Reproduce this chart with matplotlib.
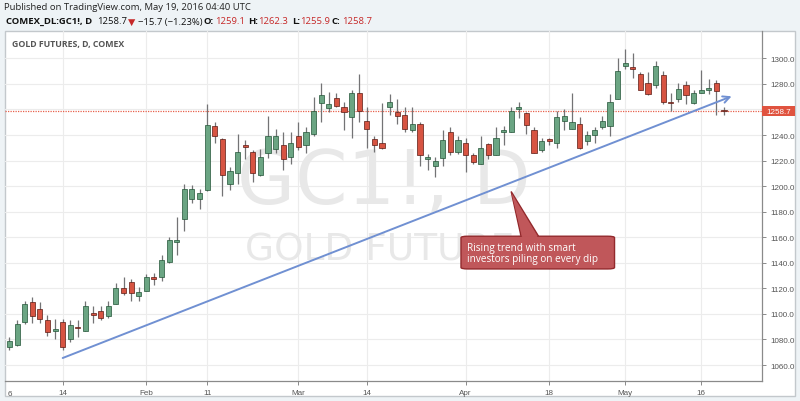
import numpy as np
import pandas as pd
import matplotlib
matplotlib.use('Agg')
import matplotlib.pyplot as plt
import matplotlib.transforms as mtransforms
from matplotlib.patches import Rectangle, FancyBboxPatch, Polygon

# COMEX gold futures, daily bars, 5 Jan - 19 May 2016
holidays = ['2016-01-18', '2016-02-15', '2016-03-25']
dates = pd.bdate_range('2016-01-05', '2016-05-19').drop(pd.to_datetime(holidays))

opens = [1074, 1076, 1094, 1109, 1104, 1095, 1087, 1094, 1080, 1090,
         1087, 1101, 1102, 1098, 1108, 1120, 1125, 1114, 1118, 1129,
         1129, 1141, 1156, 1174, 1190, 1190, 1197, 1247, 1237, 1202,
         1210, 1232, 1227, 1209, 1226, 1229, 1232, 1223, 1239, 1232,
         1241, 1265, 1261, 1269, 1262, 1254, 1273, 1251, 1237, 1234,
         1262, 1258, 1256, 1244, 1249, 1221, 1216, 1222, 1242, 1227,
         1234, 1224, 1217, 1233, 1224, 1242, 1242, 1260, 1257, 1244,
         1228, 1237, 1234, 1251, 1245, 1249, 1235, 1240, 1246, 1247,
         1268, 1294, 1293, 1288, 1281, 1279, 1287, 1266, 1268, 1279,
         1265, 1273, 1275, 1281, 1259.1]
highs = [1082, 1095, 1110, 1113, 1109, 1099, 1096, 1096, 1095, 1095,
         1110, 1106, 1106, 1110, 1124, 1129, 1127, 1121, 1131, 1132,
         1146, 1160, 1176, 1202, 1201, 1198, 1264, 1250, 1238, 1215,
         1241, 1236, 1228, 1229, 1255, 1245, 1242, 1242, 1250, 1246,
         1270, 1281, 1274, 1273, 1266, 1275, 1288, 1262, 1239, 1265,
         1272, 1268, 1262, 1262, 1250, 1225, 1223, 1244, 1246, 1239,
         1238, 1226, 1239, 1234, 1246, 1247, 1262, 1266, 1258, 1246,
         1238, 1238, 1259, 1260, 1273, 1254, 1243, 1246, 1255, 1272,
         1300, 1307, 1304, 1289, 1289, 1298, 1290, 1273, 1281, 1282,
         1275, 1291, 1284, 1283, 1262.3]
lows = [1072, 1075, 1092, 1093, 1093, 1083, 1080, 1072, 1078, 1082,
        1087, 1093, 1095, 1097, 1108, 1115, 1110, 1110, 1118, 1123,
        1126, 1140, 1146, 1165, 1187, 1182, 1196, 1234, 1192, 1197,
        1202, 1221, 1203, 1208, 1222, 1226, 1213, 1217, 1228, 1226,
        1239, 1250, 1258, 1262, 1244, 1238, 1250, 1230, 1227, 1229,
        1256, 1249, 1242, 1242, 1216, 1213, 1207, 1216, 1224, 1225,
        1211, 1217, 1217, 1221, 1224, 1232, 1242, 1253, 1241, 1226,
        1227, 1232, 1230, 1244, 1245, 1229, 1232, 1234, 1245, 1239,
        1268, 1292, 1285, 1275, 1271, 1277, 1264, 1259, 1266, 1264,
        1264, 1273, 1272, 1256, 1255.9]
closes = [1079, 1092, 1108, 1098, 1096, 1086, 1088, 1074, 1091, 1089,
          1106, 1099, 1097, 1106, 1120, 1116, 1116, 1117, 1129, 1127,
          1142, 1158, 1158, 1198, 1198, 1195, 1248, 1239, 1209, 1212,
          1227, 1231, 1210, 1223, 1239, 1239, 1221, 1234, 1231, 1242,
          1259, 1271, 1264, 1263, 1258, 1273, 1259, 1245, 1232, 1230,
          1266, 1255, 1245, 1249, 1224, 1223, 1220, 1236, 1227, 1236,
          1224, 1219, 1230, 1224, 1238, 1244, 1259, 1262, 1248, 1226,
          1235, 1235, 1254, 1255, 1250, 1230, 1240, 1244, 1251, 1266,
          1290, 1296, 1292, 1275, 1272, 1294, 1266, 1265, 1276, 1271,
          1273, 1275, 1277, 1274.4, 1258.7]

tick_dates = ['2016-01-14', '2016-02-01', '2016-02-11', '2016-03-01', '2016-03-14',
              '2016-04-01', '2016-04-18', '2016-05-02', '2016-05-16']
tick_labels = ['14', 'Feb', '11', 'Mar', '14', 'Apr', '18', 'May', '16']
price_ticks = np.arange(1060, 1301, 20)
last_price = 1258.7

# hand drawn trend line (start / arrow tip)
trend_dates = ['2016-01-14', '2016-05-20']
trend_prices = [1065.5, 1270.3]

W, H = 800, 402
fig = plt.figure(figsize=(W / 100, H / 100), dpi=100, facecolor='#eef3f6')

def fx(x):
    return x / W

def fy(y):
    return 1 - y / H

# white chart panel
fig.patches.append(Rectangle((fx(5), fy(397)), fx(790), (397 - 32) / H,
                             transform=fig.transFigure, facecolor='white',
                             edgecolor='#c3c8cc', lw=1, zorder=-5))

ax = fig.add_axes([fx(5), fy(382), fx(757), (382 - 32) / H])
ax.set_zorder(2)
ax.set_facecolor('none')

o = np.array(opens, dtype=float)
h = np.array(highs, dtype=float)
l = np.array(lows, dtype=float)
c = np.array(closes, dtype=float)
x = np.arange(len(dates))
up = c >= o

ax.vlines(x, l, h, color='#737375', lw=0.9, zorder=3)
body = np.maximum(np.abs(c - o), 0.5)
ax.bar(x[up], body[up], bottom=o[up], width=0.68, color='#6ba583',
       edgecolor='#225437', lw=0.5, zorder=4)
ax.bar(x[~up], body[~up], bottom=c[~up], width=0.68, color='#d75442',
       edgecolor='#5b1a13', lw=0.5, zorder=4)

ax.set_xlim(-0.59, 99.0)
ax.set_ylim(1047.5, 1321.4)

tick_pos = dates.get_indexer(pd.to_datetime(tick_dates))
ax.set_xticks(tick_pos)
ax.set_xticklabels(tick_labels)
ax.set_yticks(price_ticks)
ax.set_yticklabels(['%.1f' % p for p in price_ticks])
ax.yaxis.tick_right()
ax.tick_params(axis='both', length=3, width=0.7, color='#8a8a8a',
               labelsize=5.8, labelcolor='#555555', pad=3)
ax.tick_params(axis='x', pad=2.5)
for lab in ax.get_xticklabels() + ax.get_yticklabels():
    lab.set_fontfamily('Liberation Sans')
ax.grid(True, color='#ececec', lw=0.8, zorder=0)
ax.set_axisbelow(True)
for side in ['left', 'top']:
    ax.spines[side].set_visible(False)
for side in ['right', 'bottom']:
    ax.spines[side].set_color('#8a8a8a')
    ax.spines[side].set_linewidth(0.9)

# clipped "2016" label at the left edge
ax.text(0, -0.025, '6', transform=mtransforms.blended_transform_factory(ax.transData, ax.transAxes),
        ha='center', va='top', fontsize=5.8, color='#555555', family='Liberation Sans')

# watermark
ax.text(0.5, 0.566, 'GC1!, D', transform=ax.transAxes, ha='center', va='center',
        fontsize=54, color='#e8e8e8', family='DejaVu Sans', zorder=1)
ax.text(0.51, 0.377, 'GOLD FUTURES', transform=ax.transAxes, ha='center', va='center',
        fontsize=27, color='#e8e8e8', family='DejaVu Sans', zorder=1)

# last price line and label
ax.axhline(last_price, color='#e8604c', ls=(0, (1, 1)), lw=0.9, zorder=2)
blend = mtransforms.blended_transform_factory(ax.transAxes, ax.transData)
ax.add_patch(Rectangle((1.0, last_price - 3.7), 33 / 757, 7.4, transform=blend,
                       facecolor='#e0533f', edgecolor='none', clip_on=False, zorder=5))
ax.text(1.0 + 16.5 / 757, last_price, '%.1f' % last_price, transform=blend,
        ha='center', va='center', fontsize=5.8, color='white',
        family='Liberation Sans', clip_on=False, zorder=6)

# trend line with arrow
tx = dates.searchsorted(pd.to_datetime(trend_dates))
ax.annotate('', xy=(tx[1], trend_prices[1]), xytext=(tx[0], trend_prices[0]),
            arrowprops=dict(arrowstyle='->', color='#7090d2', lw=1.4,
                            mutation_scale=12, shrinkA=0, shrinkB=0), zorder=6)

# callout
box_col = '#c0575a'
edge_col = '#93292c'
ax.add_patch(FancyBboxPatch((59.4, 1135.2), 20.2, 25.6,
                            boxstyle='round,pad=0,rounding_size=0.9',
                            mutation_aspect=1.3, facecolor=box_col,
                            edgecolor=edge_col, lw=1, zorder=7))
ax.add_patch(Polygon([(67.3, 1160.8), (66.0, 1195.8), (69.6, 1160.8)],
                     closed=False, facecolor=box_col, edgecolor=edge_col, lw=1, zorder=7))
ax.add_patch(Polygon([(67.45, 1160.2), (66.05, 1194.5), (69.45, 1160.2)],
                     facecolor=box_col, edgecolor='none', zorder=8))
ax.text(60.2, 1148, 'Rising trend with smart\ninvestors piling on every dip',
        ha='left', va='center', fontsize=7.2, color='white', family='Open Sans',
        linespacing=1.0, zorder=9)

# header
fig.text(fx(4), fy(8), 'Published on TradingView.com, May 19, 2016 04:40 UTC',
         fontsize=6.8, color='#222222', family='Open Sans', va='center')
red = '#c62828'
pieces = [(6, 'COMEX_DL:GC1!, D', 'bold', '#111111'),
          (97, '1258.7', 'normal', '#111111'),
          (128, '\u25bc', 'normal', red),
          (138, '\u221215.7 (\u22121.23%)', 'normal', '#111111'),
          (204, 'O:', 'bold', '#111111'), (215, '1259.1', 'normal', red),
          (248, 'H:', 'bold', '#111111'), (258, '1262.3', 'normal', red),
          (292, 'L:', 'bold', '#111111'), (300, '1255.9', 'normal', red),
          (332, 'C:', 'bold', '#111111'), (342, '1258.7', 'normal', red)]
for px, s, wt, col in pieces:
    fig.text(fx(px), fy(22), s, fontsize=6.8, fontweight=wt, color=col,
             family=['Open Sans', 'DejaVu Sans'], va='center')

fig.text(fx(12), fy(45), 'GOLD FUTURES, D, COMEX', fontsize=6.3, fontweight='bold',
         color='#555555', family='Open Sans', va='center')

fig.savefig('out.png', dpi=100, facecolor=fig.get_facecolor())
